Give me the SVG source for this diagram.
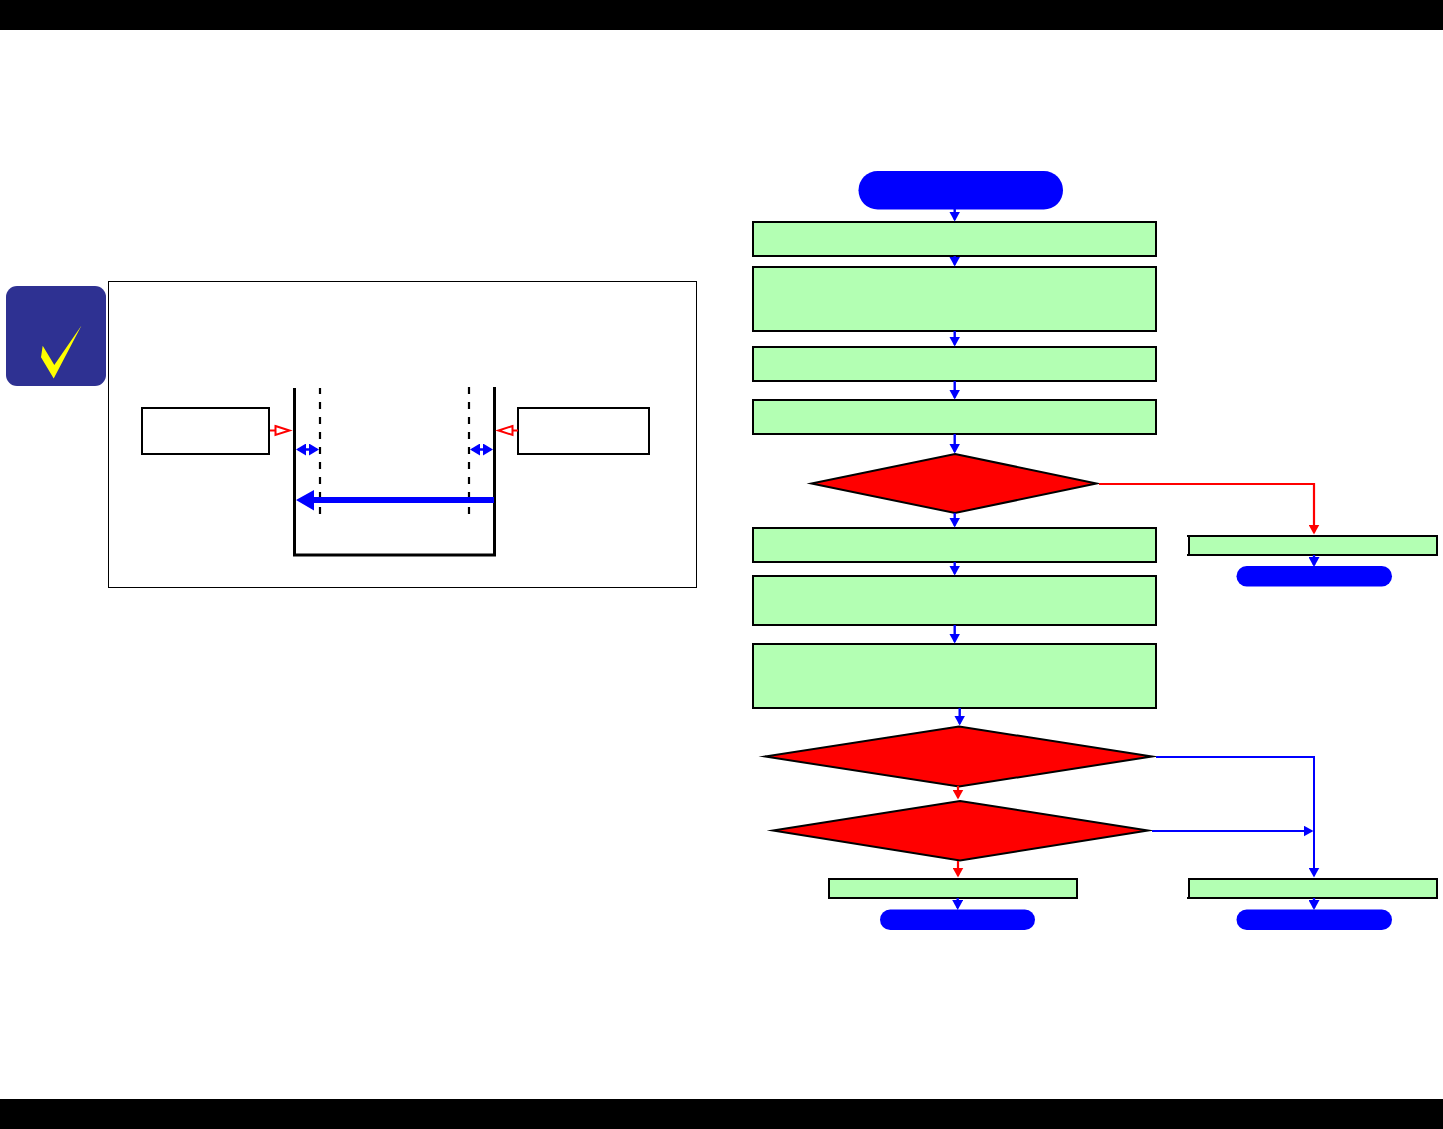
<svg xmlns="http://www.w3.org/2000/svg" width="1443" height="1129" viewBox="0 0 1443 1129">
<style>
.bar{fill:#000}
.proc{fill:#b3ffb3;stroke:#000;stroke-width:2}
.term{fill:#0000ff}
.dec{fill:#ff0000;stroke:#000;stroke-width:2;stroke-linejoin:miter;stroke-miterlimit:20}
.plain{fill:#fff;stroke:#000;stroke-width:2}
.wall{fill:none;stroke:#000;stroke-width:3}
.dash{fill:none;stroke:#000;stroke-width:2.2;stroke-dasharray:7 8}
.b{fill:none;stroke:#0000ff;stroke-width:2.4;marker-end:url(#ab)}
.h{fill:none;stroke:#0000ff;stroke-width:2;marker-end:url(#ab)}
.r{fill:none;stroke:#ff0000;stroke-width:2.2;marker-end:url(#ar)}
.d{fill:none;stroke:#0000ff;stroke-width:2.5;marker-start:url(#ad);marker-end:url(#ad)}
.o{fill:#fff;stroke:#ff0000;stroke-width:2}
.s{fill:none;stroke:#ff0000;stroke-width:2}
</style>
<defs>
<marker id="ab" viewBox="0 0 10 11" refX="8" refY="5.500" markerUnits="userSpaceOnUse" markerWidth="10" markerHeight="11" orient="auto"><path d="M0 0L10 5.500L0 11z" fill="#0000ff"/></marker>
<marker id="ar" viewBox="0 0 10 11" refX="8" refY="5.500" markerUnits="userSpaceOnUse" markerWidth="10" markerHeight="11" orient="auto"><path d="M0 0L10 5.500L0 11z" fill="#ff0000"/></marker>
<marker id="ad" viewBox="0 0 10 12" refX="8" refY="6" markerUnits="userSpaceOnUse" markerWidth="10" markerHeight="12" orient="auto-start-reverse"><path d="M0 0L10 6L0 12z" fill="#0000ff"/></marker>
</defs>
<rect width="1443" height="1129" fill="#fff"/>
<rect class="bar" x="0" y="0" width="1443" height="30"/>
<rect class="bar" x="0" y="1099" width="1443" height="30"/>

<g id="badge">
<rect x="6" y="286" width="100" height="100" rx="11" fill="#2e3192"/>
<polygon points="81.500,325.500 53.700,378.500 41,357.300 42.700,345.700 54.300,365" fill="#ffff00"/>
</g>
<g id="note-frame"><rect x="108.500" y="281.500" width="588" height="306" fill="#fff" stroke="#000" stroke-width="1"/></g>
<g id="left-box"><rect class="plain" x="142" y="408" width="127" height="46"/></g>
<g id="right-box"><rect class="plain" x="518" y="408" width="131" height="46"/></g>
<g id="tray">
<path class="wall" d="M294.500 388V555H494.500V387"/>
<path class="dash" d="M320 388V515" stroke-dashoffset="1"/>
<path class="dash" d="M469 387V515"/>
</g>

<g id="start"><rect class="term" x="858.500" y="171" width="204.500" height="38.500" rx="19.200"/></g>
<g id="step1"><rect class="proc" x="753" y="222" width="403" height="34"/></g>
<g id="step2"><rect class="proc" x="753" y="267" width="403" height="64"/></g>
<g id="step3"><rect class="proc" x="753" y="347" width="403" height="34"/></g>
<g id="step4"><rect class="proc" x="753" y="400" width="403" height="34"/></g>
<g id="decision1"><polygon class="dec" points="955,454 1096.500,483.500 955,513 811.500,483.500"/></g>
<g id="step5"><rect class="proc" x="753" y="528" width="403" height="34"/></g>
<g id="step6"><rect class="proc" x="753" y="576" width="403" height="49"/></g>
<g id="step7"><rect class="proc" x="753" y="644" width="403" height="64"/></g>
<g id="decision2"><polygon class="dec" points="959,726.500 1152,756.500 959,786.500 765,756.500"/></g>
<g id="decision3"><polygon class="dec" points="960,801 1148,830.500 960,860.500 773,830.500"/></g>
<g id="step8"><rect class="proc" x="829" y="879" width="248" height="19"/></g>
<g id="end8"><rect class="term" x="880" y="909.500" width="155" height="20.500" rx="10.200"/></g>
<g id="step9"><rect class="proc" x="1189" y="536" width="248" height="19"/><path d="M1187 536h3M1187 555h3" stroke="#000" stroke-width="2"/></g>
<g id="end9"><rect class="term" x="1236.500" y="566" width="155.500" height="20.500" rx="10.200"/></g>
<g id="step10"><rect class="proc" x="1189" y="879" width="248" height="19"/><path d="M1187 898h3" stroke="#000" stroke-width="2"/></g>
<g id="end10"><rect class="term" x="1236.500" y="909.500" width="155.500" height="20.500" rx="10.200"/></g>

<g id="connectors">
<path class="b" d="M954.700 209V219.500"/>
<path class="b" d="M954.700 256V264.500"/>
<path class="b" d="M954.700 331V344.500"/>
<path class="b" d="M954.700 381V397.500"/>
<path class="b" d="M954.700 434V451.500"/>
<path class="b" d="M954.700 513V525.500"/>
<path class="b" d="M954.700 562V573.500"/>
<path class="b" d="M954.700 625V641.500"/>
<path class="b" d="M959.700 708V723.500"/>
<path class="r" d="M958 786V797.500"/>
<path class="r" d="M958 861V875.500"/>
<path class="b" d="M957.700 898V908"/>
<path class="r" d="M1099 484H1314V532.500"/>
<path class="b" d="M1314 555V565"/>
<path class="h" d="M1156 757H1314V875.500"/>
<path class="h" d="M1152 831H1311.500"/>
<path class="b" d="M1314 898V908"/>
<path class="s" d="M270 430.500H276"/>
<polygon class="o" points="275.500,426 289.500,430.500 275.500,435"/>
<path class="s" d="M512 430.500H518"/>
<polygon class="o" points="512.500,426 498.500,430.500 512.500,435"/>
<path class="d" d="M298 449.500H317"/>
<path class="d" d="M472 449.500H491"/>
<path d="M494 497H314V490L296 500L314 510.500V503H494z" fill="#0000ff"/>
</g>
</svg>
